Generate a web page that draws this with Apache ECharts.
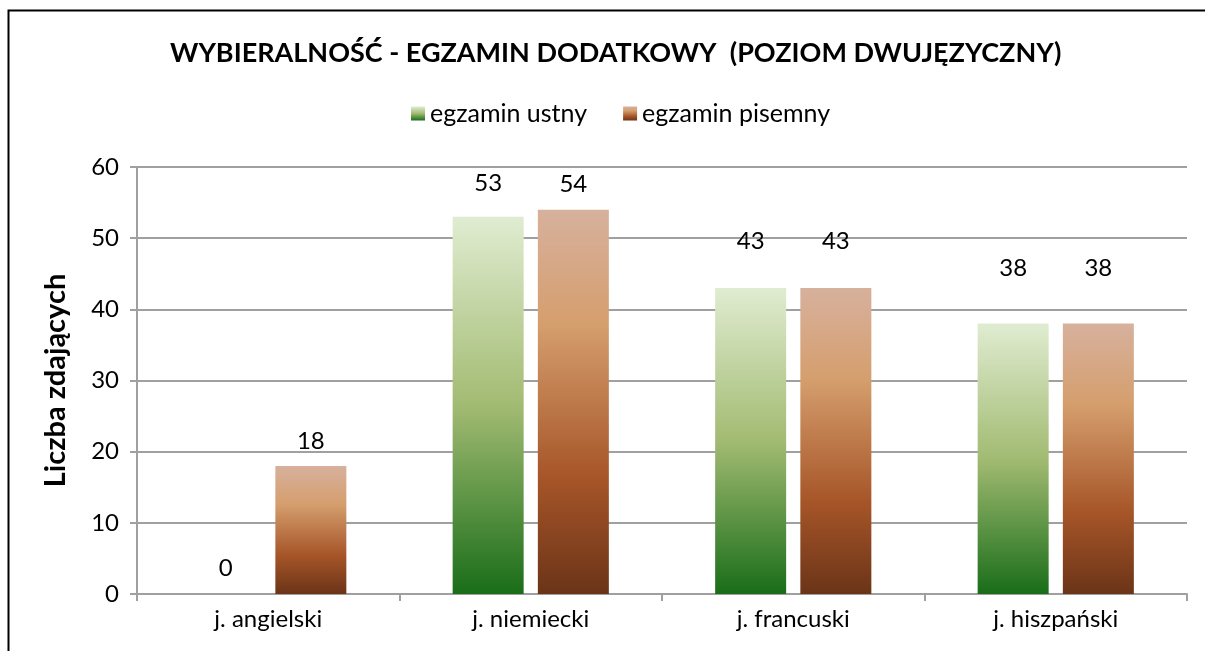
<!DOCTYPE html>
<html>
<head>
<meta charset="utf-8">
<script src="https://cdn.jsdelivr.net/npm/echarts@6/dist/echarts.min.js"></script>
<style>
  html, body { margin: 0; padding: 0; background: #fff; }
  #chart { width: 1205px; height: 651px; }
</style>
</head>
<body>
<div id="chart"></div>
<script>
const categories = ['j. angielski', 'j. niemiecki', 'j. francuski', 'j. hiszpański']
const ustny = [0, 53, 43, 38]
const pisemny = [18, 54, 43, 38]
const yTicks = [0, 10, 20, 30, 40, 50, 60]

// label gaps above bars, as placed by hand in the original
const ustnyLabelGap = [14, 22, 35, 43]
const pisemnyLabelGap = [13, 13, 35, 43]

const font = 'Lato'

const greenFill = new echarts.graphic.LinearGradient(0, 0, 0, 1, [
  { offset: 0, color: '#e0ecd1' },
  { offset: 0.5, color: '#a2bb72' },
  { offset: 1, color: '#196d19' }
])
const brownFill = new echarts.graphic.LinearGradient(0, 0, 0, 1, [
  { offset: 0, color: '#d7b19d' },
  { offset: 0.3, color: '#d59e6d' },
  { offset: 0.7, color: '#a65528' },
  { offset: 1, color: '#6b3418' }
])

function withLabels(values, gaps) {
  return values.map((v, i) => ({ value: v, label: { distance: gaps[i] } }))
}

const chart = echarts.init(document.getElementById('chart'))
chart.setOption({
  animation: false,
  textStyle: { fontFamily: font },
  graphic: [{
    type: 'rect',
    shape: { x: 8.5, y: 10.5, width: 1300, height: 800 },
    style: { fill: 'none', stroke: '#000', lineWidth: 2 },
    silent: true
  }],
  title: {
    text: 'WYBIERALNOŚĆ - EGZAMIN DODATKOWY  (POZIOM DWUJĘZYCZNY)',
    left: 165,
    top: 35,
    textStyle: { fontFamily: font, fontSize: 27, fontWeight: 'bold', color: '#000' }
  },
  legend: {
    top: 96,
    left: 406,
    itemWidth: 14,
    itemHeight: 14,
    itemGap: 36,
    icon: 'rect',
    textStyle: { fontFamily: font, fontSize: 25, color: '#000' },
    data: ['egzamin ustny', 'egzamin pisemny']
  },
  grid: { left: 137, right: 18, top: 167, bottom: 57 },
  xAxis: {
    type: 'category',
    data: categories,
    axisLine: { lineStyle: { color: '#a0a0a0', width: 2 } },
    axisTick: { show: true, length: 7, lineStyle: { color: '#a0a0a0', width: 2 } },
    axisLabel: { fontFamily: font, fontSize: 24, color: '#000', margin: 13 }
  },
  yAxis: {
    type: 'value',
    min: yTicks[0],
    max: yTicks[yTicks.length - 1],
    interval: 10,
    name: 'Liczba zdających',
    nameLocation: 'middle',
    nameGap: 67,
    nameTextStyle: { fontFamily: font, fontSize: 29, fontWeight: 'bold', color: '#000' },
    axisLine: { show: true, lineStyle: { color: '#a0a0a0', width: 2 } },
    axisTick: { show: true, length: 7, lineStyle: { color: '#a0a0a0', width: 2 } },
    axisLabel: { fontFamily: font, fontSize: 24, color: '#000', margin: 18 },
    splitLine: { lineStyle: { color: '#a0a0a0', width: 2 } }
  },
  series: [
    {
      name: 'egzamin ustny',
      type: 'bar',
      data: withLabels(ustny, ustnyLabelGap),
      barWidth: 71,
      barGap: '20%',
      itemStyle: { color: greenFill },
      label: { show: true, position: 'top', fontFamily: font, fontSize: 24, color: '#000' }
    },
    {
      name: 'egzamin pisemny',
      type: 'bar',
      data: withLabels(pisemny, pisemnyLabelGap),
      barWidth: 71,
      barGap: '20%',
      itemStyle: { color: brownFill },
      label: { show: true, position: 'top', fontFamily: font, fontSize: 24, color: '#000' }
    }
  ]
})
</script>
</body>
</html>
